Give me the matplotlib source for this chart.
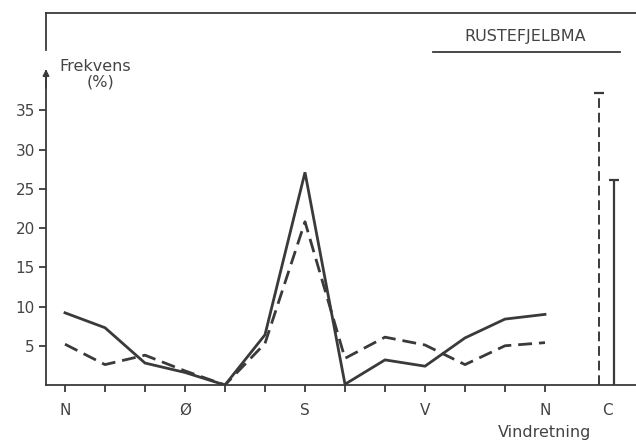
import matplotlib.pyplot as plt
import numpy as np

# Vindretning i 30-graders sektorer, N -> N
sektor = np.arange(13)
retning_pos = [0, 3, 6, 9, 12, 13.55]
retning_navn = ["N", "Ø", "S", "V", "N", "C"]

heltrukket = [9.2, 7.3, 2.8, 1.6, 0.0, 6.4, 27.1, 0.1, 3.2, 2.4, 6.0, 8.4, 9.0]
stiplet = [5.2, 2.6, 3.8, 1.8, 0.0, 5.3, 20.8, 3.4, 6.1, 5.1, 2.6, 5.0, 5.4]

# stille (C)
c_stiplet = 37.2
c_heltrukket = 26.1

farge = "#3a3a3a"
tekst = "#444444"

fig = plt.figure(figsize=(6.36, 4.45), dpi=100)
ax = fig.add_axes([0.0723, 0.1348, 0.9277, 0.836])

ax.plot(sektor, heltrukket, color=farge, lw=2.0, solid_joinstyle="miter")
ax.plot(sektor, stiplet, color=farge, lw=2.0, dashes=(5, 2.5))

# C-stolper
ax.vlines(13.35, 0, c_stiplet, color=farge, lw=1.4, linestyles=(0, (5, 2.5)))
ax.plot([13.35], [c_stiplet], marker="_", ms=7, mew=1.6, color=farge)
ax.vlines(13.73, 0, c_heltrukket, color=farge, lw=1.6)
ax.plot([13.73], [c_heltrukket], marker="_", ms=7, mew=1.6, color=farge)

ax.set_xlim(-0.475, 14.275)
ax.set_ylim(0, 47.4)

ax.set_xticks(sektor)
ax.set_xticklabels([])
ax.set_yticks([5, 10, 15, 20, 25, 30, 35])
ax.set_yticklabels(["5", "10", "15", "20", "25", "30", "35"])
ax.tick_params(axis="both", direction="out", length=5, width=1.3, color=farge,
               labelsize=11, labelcolor=tekst, pad=3)

for x, navn in zip(retning_pos, retning_navn):
    ax.text(x, -3.2, navn, ha="center", va="center", fontsize=11, color=tekst)

ax.spines["right"].set_visible(False)
for s in ["left", "bottom", "top"]:
    ax.spines[s].set_color(farge)
    ax.spines[s].set_linewidth(1.3)
ax.spines["left"].set_visible(False)

# venstre akse med pil og brudd
ax.plot([-0.475, -0.475], [0, 40.0], color=farge, lw=1.3, clip_on=False)
ax.annotate("", xy=(-0.475, 40.6), xytext=(-0.475, 37.5),
            arrowprops=dict(arrowstyle="-|>", color=farge, lw=1.3,
                            mutation_scale=9), annotation_clip=False)
ax.plot([-0.475, -0.475], [42.7, 47.4], color=farge, lw=1.3, clip_on=False)

ax.text(-0.15, 40.6, "Frekvens", fontsize=11.5, color=tekst, va="center")
ax.text(0.88, 38.6, "(%)", fontsize=11.5, color=tekst, va="center", ha="center")

ax.text(11.5, 44.4, "RUSTEFJELBMA", fontsize=11.5, color=tekst,
        ha="center", va="center")
ax.plot([9.2, 13.875], [42.4, 42.4], color=farge, lw=1.3)

ax.text(12.0, -6.0, "Vindretning", fontsize=11.5, color=tekst,
        ha="center", va="center", clip_on=False)

fig.savefig("out.png", dpi=100)
